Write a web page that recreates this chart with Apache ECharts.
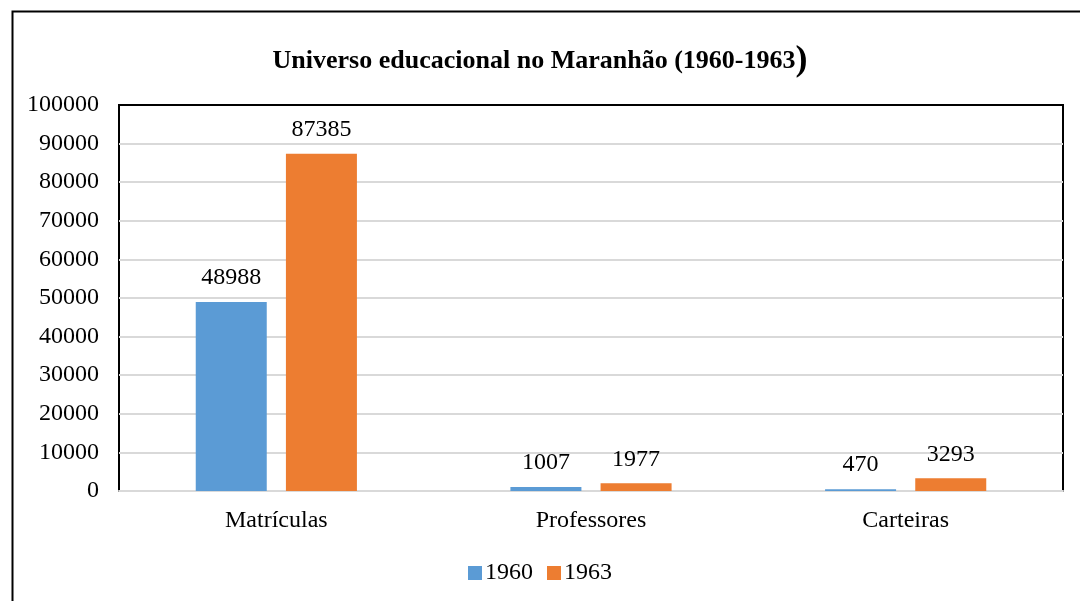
<!DOCTYPE html>
<html>
<head>
<meta charset="utf-8">
<title>Universo educacional no Maranhão</title>
<script src="https://cdn.jsdelivr.net/npm/echarts@6/dist/echarts.min.js"></script>
<style>
	html, body { margin: 0; padding: 0; background: #fff; }
	#chart { width: 1080px; height: 601px; }
</style>
</head>
<body>
<div id="chart"></div>
<script>
// dados do gráfico
var categorias = ['Matrículas', 'Professores', 'Carteiras'];
var anos = ['1960', '1963'];
var valores1960 = [48988, 1007, 470];
var valores1963 = [87385, 1977, 3293];
var cores = ['#5B9BD5', '#ED7D31'];

var fonte = '"Liberation Serif", "Times New Roman", serif';

var chart = echarts.init(document.getElementById('chart'));

function serie(nome, dados, cor) {
	return {
		name: nome,
		type: 'bar',
		data: dados,
		barWidth: 71,
		barGap: '27%',
		itemStyle: { color: cor },
		label: {
			show: true,
			position: 'top',
			distance: 12,
			fontFamily: fonte,
			fontSize: 24,
			color: '#000'
		}
	};
}

chart.setOption({
	backgroundColor: '#fff',
	animation: false,
	textStyle: { fontFamily: fonte },
	title: {
		text: '{a|Universo educacional no Maranhão (1960-1963}{b|)}',
		left: 'center',
		top: 38,
		textStyle: {
			rich: {
				a: { fontFamily: fonte, fontSize: 26, fontWeight: 'bold', color: '#000' },
				b: { fontFamily: fonte, fontSize: 36, color: '#000' }
			}
		}
	},
	legend: {
		data: anos,
		bottom: 11,
		left: 'center',
		itemWidth: 14,
		itemHeight: 14,
		itemGap: 14,
		icon: 'rect',
		textStyle: { fontFamily: fonte, fontSize: 24, color: '#000', padding: [0, 0, 0, -2] }
	},
	grid: {
		left: 119,
		right: 17,
		top: 105,
		bottom: 110,
		show: true,
		borderColor: '#000',
		borderWidth: 2
	},
	xAxis: {
		type: 'category',
		data: categorias,
		axisTick: { show: false },
		axisLine: { lineStyle: { color: '#d9d9d9', width: 2 } },
		axisLabel: { margin: 18, fontFamily: fonte, fontSize: 24, color: '#000' }
	},
	yAxis: {
		type: 'value',
		min: 0,
		max: 100000,
		interval: 10000,
		axisLine: { show: false },
		axisTick: { show: false },
		splitLine: { showMaxLine: false, lineStyle: { color: '#d9d9d9', width: 2 } },
		axisLabel: {
			margin: 20,
			fontFamily: fonte,
			fontSize: 24,
			color: '#000',
			formatter: function(v) { return String(v); }
		}
	},
	graphic: [{
		type: 'rect',
		left: 10,
		top: 9,
		shape: { width: 1200, height: 700 },
		style: { fill: null, stroke: '#000', lineWidth: 2 },
		silent: true
	}],
	series: [
		serie(anos[0], valores1960, cores[0]),
		serie(anos[1], valores1963, cores[1])
	]
});
</script>
</body>
</html>
